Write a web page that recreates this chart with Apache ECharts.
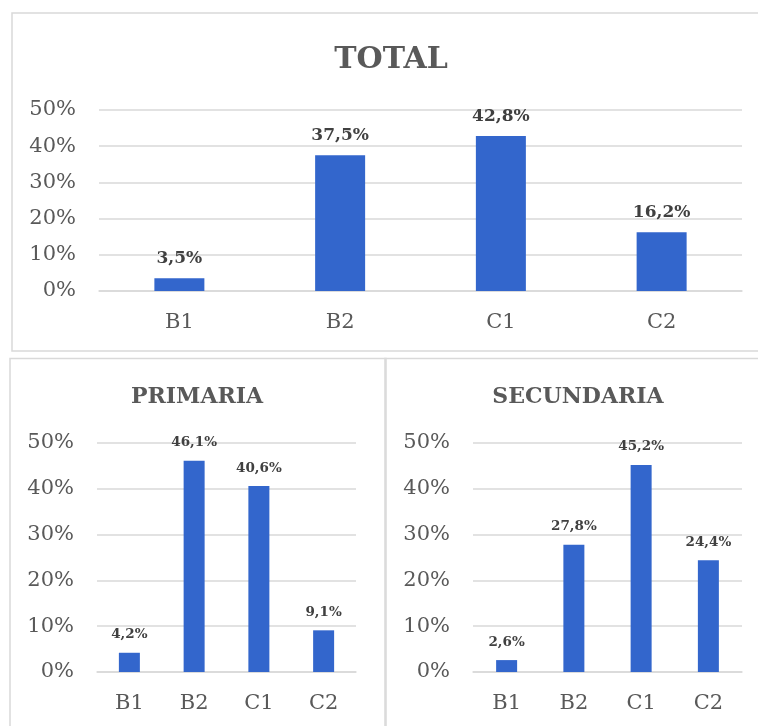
<!DOCTYPE html>
<html>
<head>
<meta charset="utf-8">
<script src="https://cdn.jsdelivr.net/npm/echarts@6/dist/echarts.min.js"></script>
<style>
html,body{margin:0;padding:0;background:#fff;}
#c{width:758px;height:726px;}
</style>
</head>
<body>
<div id="c"></div>
<script>
const categories = ['B1', 'B2', 'C1', 'C2'];
const totalValues = [3.5, 37.5, 42.8, 16.2];
const primariaValues = [4.2, 46.1, 40.6, 9.1];
const secundariaValues = [2.6, 27.8, 45.2, 24.4];
const titles = ['TOTAL', 'PRIMARIA', 'SECUNDARIA'];
const yMin = 0, yMax = 50, yStep = 10;

const FONT = '"DejaVu Serif", serif';
const GRID_COLOR = '#d9d9d9';
const TEXT_COLOR = '#595959';
const LABEL_COLOR = '#404040';
const BAR_COLOR = '#3366cc';

const chart = echarts.init(document.getElementById('c'), null, {renderer: 'canvas'});

function fmt(v) { return v.toFixed(1).replace('.', ',') + '%'; }

const grids = [
  {left: 99, top: 110, width: 643, height: 181},
  {left: 97, top: 443, width: 259, height: 229},
  {left: 473, top: 443, width: 269, height: 229}
];
const barWidths = [50, 21, 21];
const labelSizes = [17, 13.5, 13.5];
const seriesData = [totalValues, primariaValues, secundariaValues];

const option = {
  backgroundColor: '#ffffff',
  animation: false,
  title: [
    {text: titles[0], left: 391, top: 45, textAlign: 'center', padding: 0,
     textStyle: {fontFamily: FONT, fontWeight: 'bold', fontSize: 30, color: TEXT_COLOR}},
    {text: titles[1], left: 197, top: 386, textAlign: 'center', padding: 0,
     textStyle: {fontFamily: FONT, fontWeight: 'bold', fontSize: 22, color: TEXT_COLOR}},
    {text: titles[2], left: 578, top: 386, textAlign: 'center', padding: 0,
     textStyle: {fontFamily: FONT, fontWeight: 'bold', fontSize: 22, color: TEXT_COLOR}}
  ],
  graphic: [
    {type: 'rect', shape: {x: 12, y: 13, width: 760, height: 338}, style: {fill: 'none', stroke: GRID_COLOR, lineWidth: 1.5}, silent: true},
    {type: 'rect', shape: {x: 10, y: 358.5, width: 376, height: 400}, style: {fill: 'none', stroke: GRID_COLOR, lineWidth: 1.5}, silent: true},
    {type: 'rect', shape: {x: 385, y: 358.5, width: 400, height: 400}, style: {fill: 'none', stroke: GRID_COLOR, lineWidth: 1.5}, silent: true}
  ],
  grid: grids.map(g => Object.assign({containLabel: false}, g)),
  xAxis: grids.map((g, i) => ({
    type: 'category', gridIndex: i, data: categories,
    axisLine: {show: true, lineStyle: {color: GRID_COLOR, width: 1.5}},
    axisTick: {show: false},
    axisLabel: {fontFamily: FONT, fontSize: 21, color: TEXT_COLOR, margin: 21}
  })),
  yAxis: grids.map((g, i) => ({
    type: 'value', gridIndex: i, min: yMin, max: yMax, interval: yStep,
    axisLine: {show: false}, axisTick: {show: false},
    splitLine: {show: true, lineStyle: {color: GRID_COLOR, width: 1.5}},
    axisLabel: {fontFamily: FONT, fontSize: 21, color: TEXT_COLOR, margin: 23, formatter: '{value}%'}
  })),
  series: seriesData.map((d, i) => ({
    type: 'bar', xAxisIndex: i, yAxisIndex: i, data: d,
    barWidth: barWidths[i],
    itemStyle: {color: BAR_COLOR},
    label: {
      show: true, position: 'top', distance: 11,
      fontFamily: FONT, fontWeight: 'bold', fontSize: labelSizes[i], color: LABEL_COLOR,
      formatter: p => fmt(p.value)
    }
  }))
};
chart.setOption(option);
</script>
</body>
</html>
